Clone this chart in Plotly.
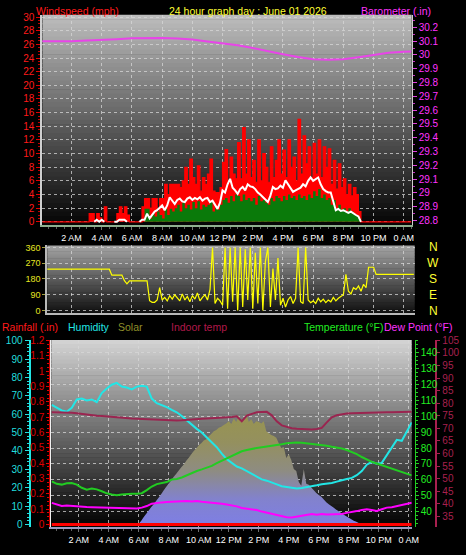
import plotly.graph_objects as go

W, H = 466, 555
FONT = "Liberation Sans, Arial, sans-serif"

# ---------------- data ----------------
hour_ticks = [2, 4, 6, 8, 10, 12, 14, 16, 18, 20, 22, 24]
hour_labels = ["2 AM", "4 AM", "6 AM", "8 AM", "10 AM", "12 PM",
               "2 PM", "4 PM", "6 PM", "8 PM", "10 PM", "0 AM"]

# wind, 10-minute samples starting at 0:00 (mph)
WIND_STEP = 1 / 6
wind_gust = [
    0, 0, 0, 0, 0, 0,
    0, 0, 0, 0, 0, 0,
    0, 0, 0, 0, 0, 0,
    0, 1.2, 1.2, 0, 1.2, 0.6,
    0, 2.2, 0, 0, 0, 0,
    1.2, 2.2, 1.2, 2.2, 1.0, 0,
    0, 0, 0, 0, 2.2, 3.4,
    3.4, 2.0, 3.4, 3.4, 1.5, 3.4,
    3.4, 5.5, 4.0, 5.5, 5.5, 5.5,
    5.5, 5.0, 6.0, 8.0, 5.5, 9.2,
    6.5, 5.5, 8.2, 4.5, 6.5, 5.5,
    7.0, 9.2, 4.5, 4.3, 4.3, 5.0,
    8.7, 10.6, 6.0, 9.5, 7.0, 6.3,
    11.6, 6.3, 13.8, 7.0, 12.0, 6.5,
    9.0, 5.8, 12.0, 6.0, 10.0, 8.0,
    5.8, 11.0, 6.5, 9.0, 12.0, 7.0,
    10.5, 6.5, 12.0, 8.0, 9.5, 6.0,
    15.0, 7.0, 12.6, 8.5, 11.0, 6.5,
    11.5, 7.0, 12.0, 6.5, 11.0, 8.0,
    10.7, 5.5, 9.0, 4.8, 8.5, 5.0,
    6.3, 4.0, 5.5, 3.8, 5.0, 4.0,
    1.5, 0, 0, 0, 0, 0,
    0, 0, 0, 0, 0, 0,
    0, 0, 0, 0, 0, 0,
    0, 0, 0, 0,
]
wind_speed = [
    0, 0, 0, 0, 0, 0,
    0, 0, 0, 0, 0, 0,
    0, 0, 0, 0, 0, 0,
    0, 0, 0, 0, 0, 0,
    0, 0, 0, 0, 0, 0,
    0, 0, 0, 0, 0, 0,
    0, 0, 0, 0, 0, 1.9,
    1.9, 0.5, 1.2, 0.8, 1.5, 1.0,
    0.5, 1.9, 1.0, 1.9, 1.5, 2.0,
    2.5, 1.5, 2.8, 2.0, 2.5, 1.8,
    2.9, 2.0, 3.0, 1.8, 2.5, 2.2,
    2.5, 3.0, 1.5, 2.0, 1.8, 2.5,
    3.2, 3.5, 2.8, 3.8, 3.0, 4.0,
    3.8, 3.0, 4.0, 3.2, 3.5, 3.0,
    3.5, 2.5, 3.8, 3.0, 3.2, 2.8,
    2.5, 3.5, 3.0, 3.8, 3.5, 3.0,
    3.8, 3.2, 4.0, 3.5, 3.8, 3.2,
    4.0, 3.5, 3.8, 3.2, 4.0, 3.5,
    4.5, 3.8, 4.8, 3.5, 4.0, 3.2,
    3.5, 2.5, 3.2, 2.0, 2.5, 1.8,
    2.0, 1.5, 2.0, 1.5, 1.2, 1.0,
    0.5, 0, 0, 0, 0, 0,
    0, 0, 0, 0, 0, 0,
    0, 0, 0, 0, 0, 0,
    0, 0, 0, 0,
]
N = None
wind_avg = [
    N, N, N, N, N, N,
    N, N, N, N, N, N,
    N, N, N, N, N, N,
    N, N, N, 0.0, 0.3, 0.0,
    0.3, 0.0, N, N, N, 0.0,
    0.0, 0.3, 0.3, 0.3, 0.0, N,
    N, N, N, 0.0, 0.3, 0.3,
    1.2, 0.5, 1.0, 1.5, 1.7, 2.0,
    2.4, 1.7, 2.4, 3.6, 3.0, 2.6,
    3.2, 3.4, 3.0, 2.9, 3.4, 3.6,
    3.2, 3.5, 3.3, 3.6, 3.1, 3.4,
    3.5, 2.9, 3.1, 2.4, 1.9, 2.8,
    4.6, 4.3, 5.5, 6.3, 5.0, 4.6,
    4.1, 4.8, 5.1, 4.6, 5.5, 5.2,
    5.1, 4.8, 4.3, 4.0, 3.6, 3.2,
    2.9, 3.8, 5.1, 4.8, 4.9, 5.3,
    5.0, 6.1, 5.5, 4.8, 4.4, 4.6,
    4.8, 5.0, 5.5, 5.2, 6.0, 6.5,
    6.0, 6.3, 6.5, 5.5, 4.8, 4.5,
    4.3, 4.3, 3.0, 1.7, 1.9, 1.6,
    1.7, 1.5, 1.3, 1.5, 1.2, 1.0,
    0.8, 0.0, N, N, N, N,
    N, N, N, N, N, N,
    N, N, N, N, N, N,
    N, N, N, N,
]

# barometer, hourly (inHg)
baro_hours = [0, 1, 2, 3, 4, 5, 6, 7, 8, 9, 10, 11, 12, 13, 14, 15, 16,
              17, 18, 19, 20, 21, 22, 23, 24, 24.5]
baro = [30.100, 30.098, 30.100, 30.105, 30.108, 30.115, 30.122, 30.124,
        30.124, 30.120, 30.112, 30.098, 30.085, 30.070, 30.050, 30.026,
        30.005, 29.985, 29.970, 29.966, 29.970, 29.984, 30.000, 30.016,
        30.023, 30.026]

# wind direction, 10-minute samples starting at 0:00 (degrees)
wind_dir = [
    236, 236, 236, 236, 236, 236,
    236, 236, 236, 236, 236, 236,
    236, 236, 236, 236, 236, 236,
    236, 236, 236, 236, 236, 236,
    236, 236, 236, 236, 202, 202,
    202, 202, 202, 170, 152, 169,
    169, 169, 169, 169, 169, 169,
    169, 56, 47, 47, 60, 131,
    60, 75, 55, 85, 65, 90,
    70, 55, 95, 60, 80, 50,
    85, 65, 100, 55, 75, 90,
    60, 120, 360, 40, 70, 55,
    30, 360, 10, 360, 50, 360,
    0, 360, 20, 350, 60, 360,
    10, 330, 40, 360, 0, 280,
    360, 20, 240, 60, 300, 30,
    70, 20, 60, 80, 40, 70,
    360, 50, 40, 360, 60, 45,
    55, 40, 70, 50, 65, 45,
    60, 50, 75, 55, 70, 80,
    90, 206, 110, 95, 130, 120,
    140, 110, 150, 130, 247, 247,
    247, 206, 206, 206, 206, 206,
    206, 206, 206, 206, 206, 206,
    206, 206, 206, 206, 206,
]

# lower panel, 20-minute samples starting at 0:12
LOW_START, LOW_STEP = 0.2, 1 / 3
humidity = [
    65, 63.5, 62, 61.3, 63.5, 68, 68.5, 67.5, 68, 66.5, 71.5, 74,
    76, 77, 75, 74.5, 73.5, 75, 75.5, 75, 68.5, 66, 65, 63.8,
    62.3, 61, 59, 56.5, 54, 52, 50, 47.5, 45, 42, 38.5, 35.5,
    33.5, 31.5, 30.5, 29, 27.2, 26, 24.5, 23.8, 22.6, 21.8, 20.8, 20.3,
    19.8, 19.5, 19.8, 20.2, 20.7, 21.3, 21.9, 22.2, 22.5, 23.3, 24.2, 24.7,
    25.3, 26.8, 29, 32.5, 34, 33, 33.5, 37.5, 42, 46, 45.5, 50.5, 55.5,
]
temperature = [
    59, 57.5, 57, 57.8, 58, 57, 55, 53.8, 54.5, 54, 52.8, 51.5,
    50.8, 50.3, 50.8, 51.2, 51.2, 51.2, 51.6, 53.5, 55.8, 57.3, 57.8, 58.6,
    60.2, 60.6, 61.5, 63, 64.6, 65.6, 66.6, 67.6, 68.8, 70.5, 72, 73.8,
    75, 76.5, 78, 78.8, 79.6, 80.1, 80.5, 80.9, 81.4, 81.9, 82.4, 83,
    83.3, 83.5, 83.4, 83.1, 82.8, 82.4, 82.1, 81.5, 80.8, 80.3, 79.7, 78.8,
    77.6, 76.2, 74.4, 72.8, 71.3, 70.3, 69.2, 68.2, 67.1, 66.1, 65, 64, 62.8,
]
dew_point = [
    45.5, 44.5, 43.5, 43.8, 43.5, 43.2, 43.3, 42.9, 42.8, 42.7, 42.5, 42.4,
    42.2, 42.1, 42, 42, 42, 42, 42.5, 43.5, 45, 45.6, 45.8, 46,
    46.2, 46.5, 46.3, 46.6, 46.4, 46.6, 46.2, 46, 45.7, 45.6, 45, 44.5,
    44, 43.3, 42.3, 42, 41.5, 41, 40, 39.3, 38.5, 37.8, 37.2, 36.5,
    36.3, 36.8, 37.2, 38, 38.4, 38, 38.5, 38.2, 38.4, 38.6, 38.5, 39.2,
    39.6, 40.3, 41, 41.4, 41, 40.4, 41.5, 42.5, 42.8, 43.5, 43.8, 44.8, 45.6,
]
indoor_temp = [
    76.4, 76.4, 76.3, 76.3, 76.2, 76, 75.7, 75.4, 75.2, 75, 74.9, 74.7,
    74.5, 74.2, 74, 73.9, 73.9, 73.8, 73.7, 73.6, 73.4, 73.4, 73.3, 73.2,
    73.1, 73.1, 73.2, 73.4, 73.5, 73.6, 73.8, 73.9, 74, 74.2, 74.3, 74.4,
    74.5, 74.8, 72.8, 75.1, 75.9, 76.4, 76.5, 76.6, 75.2, 72.8, 71.2, 70.5,
    70.1, 69.9, 69.8, 69.7, 69.6, 69.8, 70.2, 72.4, 74.4, 75.2, 75.7, 75.9,
    76, 76.1, 76.1, 76.1, 76.1, 76.2, 76.3, 76.4, 76.4, 76.5, 76.5, 76.6, 76.6,
]

# solar radiation, 10-minute samples starting at 6:00 (W/m2)
SOLAR_START, SOLAR_STEP = 6.0, 1 / 6
solar = [
    3, 20, 40, 58, 76, 95,
    110, 128, 146, 165, 185, 205,
    222, 240, 258, 275, 292, 310,
    325, 345, 362, 380, 398, 412,
    430, 440, 455, 462, 478, 490,
    505, 512, 525, 530, 540, 548,
    560, 545, 575, 555, 590, 560,
    565, 600, 555, 570, 545, 560,
    555, 548, 560, 505, 495, 485,
    480, 470, 440, 415, 420, 360,
    380, 350, 300, 290, 230, 210,
    300, 220, 215, 200, 185, 170,
    160, 150, 135, 120, 110, 100,
    90, 80, 72, 62, 52, 44,
    36, 28, 20, 14, 8, 4,
    0,
]

rain_hours = [0.2, 24.2]
rainfall = [0.0, 0.0]

# ---------------- layout helpers ----------------
TOP = (43, 418, 10, 223)   # x0, x1, y0, y1 in pixels
MID = (48, 421, 244, 313)
BOT = (52, 418, 340, 530)


def xdom(b):
    return [b[0] / W, b[1] / W]


def ydom(b):
    return [1 - b[3] / H, 1 - b[2] / H]


def px(x):
    return x / W


def py(y):
    return 1 - y / H


shapes = []


def gradient(b, top, bot, n=48):
    x0, x1, y0, y1 = b
    for i in range(n):
        t = (i + 0.5) / n
        g = int(round(top + (bot - top) * t))
        ya = y0 + (y1 - y0) * i / n
        yb = y0 + (y1 - y0) * (i + 1) / n + 0.6
        shapes.append(dict(type="rect", xref="paper", yref="paper",
                           x0=px(x0), x1=px(x1), y0=py(ya), y1=py(min(yb, y1)),
                           fillcolor=f"rgb({g},{g},{g})", line_width=0,
                           layer="below"))


gradient(TOP, 190, 4)
gradient(MID, 165, 15)
gradient(BOT, 212, 0)

fig = go.Figure()

wind_hours = [i * WIND_STEP for i in range(len(wind_gust))]
dir_hours = [i * WIND_STEP for i in range(len(wind_dir))]
low_hours = [LOW_START + i * LOW_STEP for i in range(len(humidity))]
solar_hours = [SOLAR_START + i * SOLAR_STEP for i in range(len(solar))]

# top panel
fig.add_trace(go.Scatter(x=wind_hours, y=wind_gust, mode="lines",
                         line=dict(color="#ff0000", width=1.2, shape="hv"),
                         fill="tozeroy", fillcolor="#ff0000",
                         xaxis="x", yaxis="y"))
fig.add_trace(go.Scatter(x=wind_hours, y=wind_speed, mode="lines",
                         line=dict(color="#0a7a0a", width=0, shape="hv"),
                         fill="tozeroy", fillcolor="#0a7a0a",
                         xaxis="x", yaxis="y"))
fig.add_trace(go.Scatter(x=wind_hours, y=wind_avg, mode="lines",
                         line=dict(color="#ffffff", width=2),
                         connectgaps=False, xaxis="x", yaxis="y"))
fig.add_trace(go.Scatter(x=baro_hours, y=baro, mode="lines",
                         line=dict(color="#e845e8", width=2),
                         xaxis="x", yaxis="y2"))

# middle panel
fig.add_trace(go.Scatter(x=dir_hours, y=wind_dir, mode="lines",
                         line=dict(color="#ffff00", width=1.2),
                         xaxis="x2", yaxis="y3"))

# bottom panel
fig.add_trace(go.Scatter(x=solar_hours, y=solar, mode="none",
                         fill="tozeroy",
                         fillgradient=dict(type="vertical", start=0, stop=600,
                                           colorscale=[[0, "rgb(126,126,230)"],
                                                       [0.25, "rgb(130,130,205)"],
                                                       [0.5, "rgb(142,140,130)"],
                                                       [0.75, "rgb(148,144,95)"],
                                                       [1, "rgb(152,148,80)"]]),
                         xaxis="x3", yaxis="y4"))
fig.add_trace(go.Scatter(x=low_hours, y=humidity, mode="lines",
                         line=dict(color="#22e6e6", width=2),
                         xaxis="x3", yaxis="y5"))
fig.add_trace(go.Scatter(x=rain_hours, y=rainfall, mode="lines",
                         line=dict(color="#ff0000", width=3),
                         xaxis="x3", yaxis="y6"))
fig.add_trace(go.Scatter(x=low_hours, y=temperature, mode="lines",
                         line=dict(color="#22cc22", width=2),
                         xaxis="x3", yaxis="y7"))
fig.add_trace(go.Scatter(x=low_hours, y=dew_point, mode="lines",
                         line=dict(color="#ff00ff", width=2),
                         xaxis="x3", yaxis="y7"))
fig.add_trace(go.Scatter(x=low_hours, y=indoor_temp, mode="lines",
                         line=dict(color="#9a2550", width=2),
                         xaxis="x3", yaxis="y8"))

grid = dict(showgrid=True, gridcolor="rgba(215,215,215,0.75)", griddash="dot",
            gridwidth=1, zeroline=False)

xcommon = dict(tickmode="array", tickvals=hour_ticks, ticktext=hour_labels,
               tickangle=0,
               tickfont=dict(color="white", size=9, family=FONT),
               ticks="outside", ticklen=3, tickcolor="#707070",
               minor=dict(dtick=0.5, ticklen=2, tickcolor="#606060",
                          ticks="outside", showgrid=False), **grid)

fig.update_layout(
    width=W, height=H, margin=dict(l=0, r=0, t=0, b=0),
    paper_bgcolor="black", plot_bgcolor="rgba(0,0,0,0)",
    showlegend=False, shapes=shapes,
    font=dict(family=FONT),
    xaxis=dict(domain=xdom(TOP), range=[0.065, 24.53], anchor="y",
               showline=True, linecolor="#8fb08f", linewidth=2, **xcommon),
    yaxis=dict(domain=ydom(TOP), range=[-0.433, 30.33], anchor="x",
               tick0=0, dtick=2, tickfont=dict(color="#ff1a1a", size=10),
               ticks="outside", ticklen=4, tickcolor="#e00000",
               minor=dict(dtick=0.5, ticklen=2, tickcolor="#c00000", ticks="outside"),
               showline=True, linecolor="#cfcfcf", linewidth=2, **grid),
    yaxis2=dict(overlaying="y", side="right", anchor="x",
                range=[28.769, 30.291], tick0=28.8, dtick=0.1,
                tickfont=dict(color="#ff33ff", size=10),
                ticks="outside", ticklen=4, tickcolor="#e040e0",
                minor=dict(dtick=0.05, ticklen=2, tickcolor="#c030c0", ticks="outside"),
                showgrid=False, zeroline=False,
                showline=True, linecolor="#cfcfcf", linewidth=1),
    xaxis2=dict(domain=xdom(MID), range=[0.391, 24.72], anchor="y3",
                showticklabels=False, tickvals=hour_ticks, ticks="",
                showline=True, linecolor="#b8b8b8", linewidth=2, **grid),
    yaxis3=dict(domain=ydom(MID), range=[-16.9, 371.2], anchor="x2",
                tickmode="array", tickvals=[0, 90, 180, 270, 360],
                tickfont=dict(color="#e6e620", size=9),
                ticks="outside", ticklen=3, tickcolor="#a0a040",
                showline=True, linecolor="#b8b8b8", linewidth=2, **grid),
    xaxis3=dict(domain=xdom(BOT), range=[0.164, 24.196], anchor="y4",
                showline=True, linecolor="#9a9ac0", linewidth=2, **xcommon),
    yaxis4=dict(domain=ydom(BOT), range=[-16, 1000], anchor="x3",
                showticklabels=False, ticks="", showgrid=False, zeroline=False,
                showline=True, linecolor="#f0f0f0", linewidth=2),
    yaxis5=dict(overlaying="y4", anchor="free", position=30 / W, side="left",
                range=[-1.6, 100.3], tick0=0, dtick=10,
                tickfont=dict(color="#22dede", size=10),
                ticks="outside", ticklen=4, tickcolor="#22dede",
                minor=dict(dtick=2, ticklen=2, tickcolor="#22dede", ticks="outside"),
                showline=True, linecolor="#22e6e6", linewidth=2,
                showgrid=False, zeroline=False),
    yaxis6=dict(overlaying="y4", anchor="free", position=50 / W, side="left",
                range=[-0.01925, 1.203], tick0=0, dtick=0.1,
                tickfont=dict(color="#e00000", size=10),
                ticks="outside", ticklen=3, tickcolor="#e00000",
                minor=dict(dtick=0.025, ticklen=2, tickcolor="#e00000", ticks="outside"),
                showline=True, linecolor="#d00000", linewidth=1,
                showgrid=False, zeroline=False),
    yaxis7=dict(overlaying="y4", anchor="free", position=421 / W, side="right",
                range=[30.06, 148.07], tick0=0, dtick=10,
                tickfont=dict(color="#22ee22", size=10),
                ticks="outside", ticklen=3, tickcolor="#22cc22",
                minor=dict(dtick=2.5, ticklen=2, tickcolor="#22cc22", ticks="outside"),
                showline=True, linecolor="#22cc22", linewidth=1, **grid),
    yaxis8=dict(overlaying="y4", anchor="free", position=443 / W, side="right",
                range=[30.69, 105.09], tick0=0, dtick=5,
                tickfont=dict(color="#a8204f", size=10),
                ticks="outside", ticklen=3, tickcolor="#a8204f",
                showline=True, linecolor="#a8204f", linewidth=2,
                showgrid=False, zeroline=False),
)

ann = []


def label(text, x, y, color, anchor="left", size=10.5):
    ann.append(dict(text=text, x=px(x), y=py(y), xref="paper", yref="paper",
                    xanchor=anchor, yanchor="middle", showarrow=False,
                    font=dict(color=color, size=size, family=FONT)))


label("Windspeed (mph)", 35, 6, "#ff1a1a")
label("24 hour graph day : June 01 2026", 252, 6, "#ffff33", anchor="center")
label("Barometer (.in)", 440, 6, "#ff33ff", anchor="right")
label("Rainfall (.in)", 0, 327, "#ff1a1a")
label("Humidity", 67, 327, "#22e6e6")
label("Solar", 118, 327, "#8f8f2a")
label("Indoor temp", 172, 327, "#b0184a")
label("Temperature (°F)", 391, 327, "#22ee22", anchor="right")
label("Dew Point (°F)", 461, 327, "#ff33ff", anchor="right")

for letter, deg in zip(["N", "W", "S", "E", "N"], [360, 270, 180, 90, 0]):
    ann.append(dict(text=letter, x=px(440), y=deg, xref="paper", yref="y3",
                    xanchor="center", yanchor="middle", showarrow=False,
                    font=dict(color="#ffff33", size=12, family=FONT)))

fig.update_layout(annotations=ann)
fig.write_html("out.html",
               config={"displayModeBar": False},
               post_script="document.body.style.margin='0';"
                           "document.body.style.background='black';")
